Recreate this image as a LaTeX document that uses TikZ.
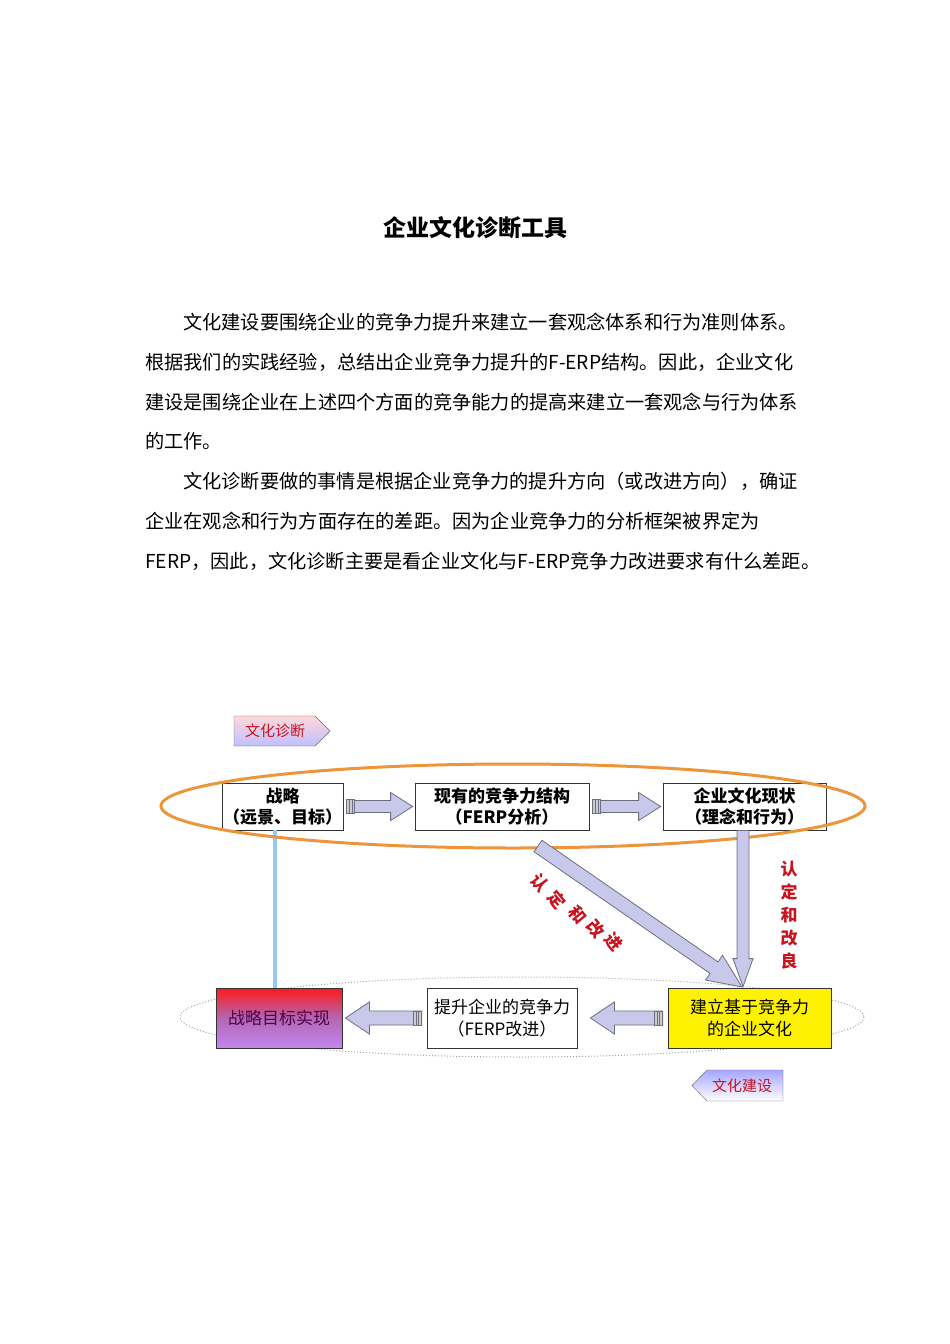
\documentclass[tikz,border=0pt]{standalone}
\usepackage{fontspec}
\setmainfont{Noto Sans CJK SC}
\newfontfamily\cjk{Noto Sans CJK SC}
\usetikzlibrary{calc,shapes.geometric}
\definecolor{lav}{RGB}{200,200,235}
\definecolor{lavedge}{RGB}{110,110,130}
\definecolor{orng}{RGB}{236,150,60}
\definecolor{redtxt}{RGB}{200,20,30}
\definecolor{skyb}{RGB}{150,200,240}
\definecolor{purp}{RGB}{195,135,240}
\newcommand\fatarrow[5]{%
 \coordinate (fa-c) at ($(#2)!#5pt!(#1)$);
 \draw[fatarr] ($(#1)!#3pt!90:(#2)$) -- ($(fa-c)!#3pt!90:(#2)$) -- ($(fa-c)!#4pt!90:(#2)$) -- (#2) -- ($(fa-c)!#4pt!-90:(#2)$) -- ($(fa-c)!#3pt!-90:(#2)$) -- ($(#1)!#3pt!-90:(#2)$) -- cycle;}
\begin{document}
\begin{tikzpicture}[x=1pt,y=-1pt,
 fatarr/.style={draw=lavedge,fill=lav,line width=0.8pt,line join=miter},
 para/.style={anchor=base west,inner sep=0,font=\fontsize{19.2}{20}\selectfont},
 topbox/.style={draw=black!80,line width=0.8pt,fill=white,minimum height=47pt,align=center,inner sep=1pt,font=\fontsize{17}{21}\selectfont\bfseries},
 botbox/.style={draw=black!80,line width=0.8pt,minimum height=60pt,align=center,inner sep=1pt,font=\fontsize{17}{22}\selectfont},
 redlab/.style={text=redtxt,font=\fontsize{17}{23}\selectfont\bfseries,align=center}]
\useasboundingbox[fill=white] (0,0) rectangle (950,1344);
\node[font=\fontsize{23}{26}\selectfont\bfseries] (title) at (475,228) {企业文化诊断工具};
\node[para] (p1) at (183,329) {文化建设要围绕企业的竞争力提升来建立一套观念体系和行为准则体系。};
\node[para] (p2) at (145,369) {根据我们的实践经验，总结出企业竞争力提升的F-ERP结构。因此，企业文化};
\node[para] (p3) at (145,409) {建设是围绕企业在上述四个方面的竞争能力的提高来建立一套观念与行为体系};
\node[para] (p4) at (145,448) {的工作。};
\node[para] (p5) at (183,488) {文化诊断要做的事情是根据企业竞争力的提升方向（或改进方向），确证};
\node[para] (p6) at (145,528) {企业在观念和行为方面存在的差距。因为企业竞争力的分析框架被界定为};
\node[para] (p7) at (145,568) {FERP，因此，文化诊断主要是看企业文化与F-ERP竞争力改进要求有什么差距。};
% tag top
\shade[top color=pink!60,bottom color=blue!25,draw=black!60] (234,716) -- (315,716) -- (330,731) -- (315,746) -- (234,746) -- cycle;
\node[text=redtxt,font=\fontsize{15}{16}\selectfont] (tag1) at (275,731) {文化诊断};
% bottom ellipse
\draw[gray!70,dotted,line width=1pt] (522,1017) ellipse [x radius=342,y radius=40];
\coordinate (bl) at (275,830);
% boxes
\node[topbox,minimum width=121pt] (b1) at (282.5,806.5) {战略\\（远景、目标）};
\node[topbox,minimum width=174pt] (b2) at (502,806.5) {现有的竞争力结构\\（FERP分析）};
\node[topbox,minimum width=163pt] (b3) at (744.5,806.5) {企业文化现状\\（理念和行为）};
\node[botbox,minimum width=126pt,shade,top color=red!90,bottom color=purp,middle color=violet!60,text=violet!60!black] (b4) at (279,1018) {战略目标实现};
\draw[line width=4pt,skyb] (b1.south -| bl) -- (b4.north -| bl);
\node[botbox,minimum width=150pt,fill=white] (b5) at (502,1018) {提升企业的竞争力\\（FERP改进）};
\node[botbox,minimum width=163pt,fill=yellow] (b6) at (749.5,1018) {建立基于竞争力\\的企业文化};
% orange ellipse
\draw[orng,line width=3pt] (513,806) ellipse [x radius=352,y radius=42];
% arrows
\coordinate (a1s) at ($(b1.east)+(3,0)$); \coordinate (a1e) at ($(b2.west)+(-2,0)$);
\fatarrow{a1s}{a1e}{6}{14}{22}
\coordinate (a2s) at ($(b2.east)+(3,0)$); \coordinate (a2e) at ($(b3.west)+(-2,0)$);
\fatarrow{a2s}{a2e}{6}{14}{22}
\coordinate (a3s) at ($(b5.west)+(-5,0)$); \coordinate (a3e) at ($(b4.east)+(3,0)$);
\fatarrow{a3s}{a3e}{7}{16}{24}
\coordinate (a4s) at ($(b6.west)+(-5,0)$); \coordinate (a4e) at ($(b5.east)+(13,0)$);
\fatarrow{a4s}{a4e}{7}{16}{24}
\coordinate (dgs) at (538,846); \coordinate (dge) at (742,987);
\fatarrow{dgs}{dge}{7}{15}{34}
\coordinate (vs) at ($(b3.south)+(-1.5,0)$); \coordinate (ve) at ($(b6.north)+(-6.5,-1)$);
\fatarrow{vs}{ve}{6}{10}{28}
\foreach \s in {a1s,a2s}{\draw[lavedge,fill=gray!40] ($(\s)+(0,-7)$) rectangle ($(\s)+(8,7)$); \draw[lavedge] ($(\s)+(3,-7)$)--($(\s)+(3,7)$) ($(\s)+(5.5,-7)$)--($(\s)+(5.5,7)$);}
\foreach \s in {a3s,a4s}{\draw[lavedge,fill=gray!40] ($(\s)+(-8,-7)$) rectangle ($(\s)+(0,7)$); \draw[lavedge] ($(\s)+(-3,-7)$)--($(\s)+(-3,7)$) ($(\s)+(-5.5,-7)$)--($(\s)+(-5.5,7)$);}
% red labels
\node[redlab,rotate=-50] (l1a) at (540,883) {认};
\node[redlab,rotate=-50] (l1b) at (557,900) {定};
\node[redlab,rotate=-50] (l1c) at (578,915) {和};
\node[redlab,rotate=-50] (l1d) at (596,929) {改};
\node[redlab,rotate=-50] (l1e) at (614,942) {进};
\node[redlab] (l2) at (789,915) {认\\定\\和\\改\\良};
% tag bottom
\shade[top color=blue!35,bottom color=white,draw=black!60] (783,1070) -- (707,1070) -- (692,1085.5) -- (707,1101) -- (783,1101) -- cycle;
\node[text=redtxt,font=\fontsize{15}{16}\selectfont] (tag2) at (742,1085.5) {文化建设};
\end{tikzpicture}
\end{document}
